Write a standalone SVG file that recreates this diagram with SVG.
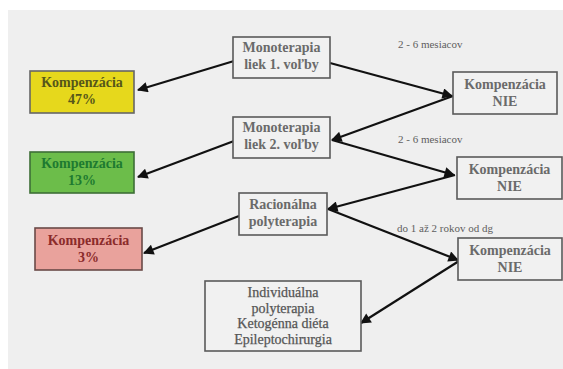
<svg xmlns="http://www.w3.org/2000/svg" width="563" height="369" viewBox="0 0 563 369">
<defs>
<style>
.box{fill:#f1f1f1;stroke:#5a5a5a;stroke-width:1.6}
.t{font-family:"Liberation Serif",serif;font-weight:bold;font-size:14px;text-anchor:middle;fill:#6a6a6a}
.r{font-family:"Liberation Serif",serif;font-size:14px;text-anchor:middle;fill:#555;stroke:#555;stroke-width:0.25}
.s{font-family:"Liberation Serif",serif;font-size:11px;fill:#5e5e5e}
.ln{stroke:#111;stroke-width:2.2;fill:none;marker-end:url(#ah)}
</style>
<marker id="ah" viewBox="0 0 10 10" refX="9" refY="5" markerWidth="5.5" markerHeight="4.8" orient="auto" markerUnits="strokeWidth">
<path d="M0,0 L10,5 L0,10 z" fill="#111"/>
</marker>
</defs>
<rect x="0" y="0" width="563" height="369" fill="#ffffff"/>
<rect x="8" y="10" width="555" height="359" fill="#efefef"/>

<g id="connectors">
<line class="ln" x1="234" y1="61" x2="138" y2="90"/>
<line class="ln" x1="330" y1="63" x2="452" y2="96"/>
<line class="ln" x1="453" y1="96" x2="332" y2="140"/>
<line class="ln" x1="234" y1="141" x2="138" y2="177"/>
<line class="ln" x1="332" y1="140" x2="454" y2="175"/>
<line class="ln" x1="455" y1="175" x2="328" y2="209"/>
<line class="ln" x1="239" y1="216" x2="144" y2="253"/>
<line class="ln" x1="328" y1="209" x2="458" y2="260"/>
<line class="ln" x1="459" y1="261" x2="361" y2="323"/>
</g>

<g id="mono1">
<rect class="box" x="233" y="37" width="97" height="41"/>
<text class="t" x="281.5" y="52">Monoterapia</text>
<text class="t" x="281.5" y="69">liek 1. voľby</text>
</g>
<g id="mono2">
<rect class="box" x="233" y="117" width="97" height="41"/>
<text class="t" x="281.5" y="132">Monoterapia</text>
<text class="t" x="281.5" y="149">liek 2. voľby</text>
</g>
<g id="rac">
<rect class="box" x="239" y="193" width="88" height="42"/>
<text class="t" x="283" y="209">Racionálna</text>
<text class="t" x="283" y="226">polyterapia</text>
</g>
<g id="ind">
<rect class="box" x="205" y="281" width="156" height="70"/>
<text class="r" x="283" y="297">Individuálna</text>
<text class="r" x="283" y="312.5">polyterapia</text>
<text class="r" x="283" y="328">Ketogénna diéta</text>
<text class="r" x="283" y="343.5">Epileptochirurgia</text>
</g>

<g id="k47">
<rect x="30" y="71" width="104" height="42" fill="#e6d81c" stroke="#666" stroke-width="1.6"/>
<text class="t" x="82" y="87" style="fill:#55561a">Kompenzácia</text>
<text class="t" x="82" y="104" style="fill:#55561a">47%</text>
</g>
<g id="k13">
<rect x="30" y="152" width="104" height="41" fill="#6cbd4a" stroke="#3e6e36" stroke-width="1.6"/>
<text class="t" x="82" y="168" style="fill:#1d7a30">Kompenzácia</text>
<text class="t" x="82" y="185" style="fill:#1d7a30">13%</text>
</g>
<g id="k3">
<rect x="35" y="228" width="107" height="42" fill="#e9a29c" stroke="#6a4a48" stroke-width="1.6"/>
<text class="t" x="88.5" y="245" style="fill:#8b2b2b">Kompenzácia</text>
<text class="t" x="88.5" y="262" style="fill:#8b2b2b">3%</text>
</g>

<g id="nie1">
<rect class="box" x="453" y="72" width="104" height="42"/>
<text class="t" x="505" y="89">Kompenzácia</text>
<text class="t" x="505" y="106">NIE</text>
</g>
<g id="nie2">
<rect class="box" x="457" y="157" width="105" height="42"/>
<text class="t" x="509.5" y="174">Kompenzácia</text>
<text class="t" x="509.5" y="191">NIE</text>
</g>
<g id="nie3">
<rect class="box" x="458" y="238" width="104" height="42"/>
<text class="t" x="510" y="255">Kompenzácia</text>
<text class="t" x="510" y="272">NIE</text>
</g>

<g id="labels">
<text class="s" x="398" y="48">2 - 6 mesiacov</text>
<text class="s" x="398" y="143">2 - 6 mesiacov</text>
<text class="s" x="397" y="232">do 1 až 2 rokov od dg</text>
</g>
</svg>
